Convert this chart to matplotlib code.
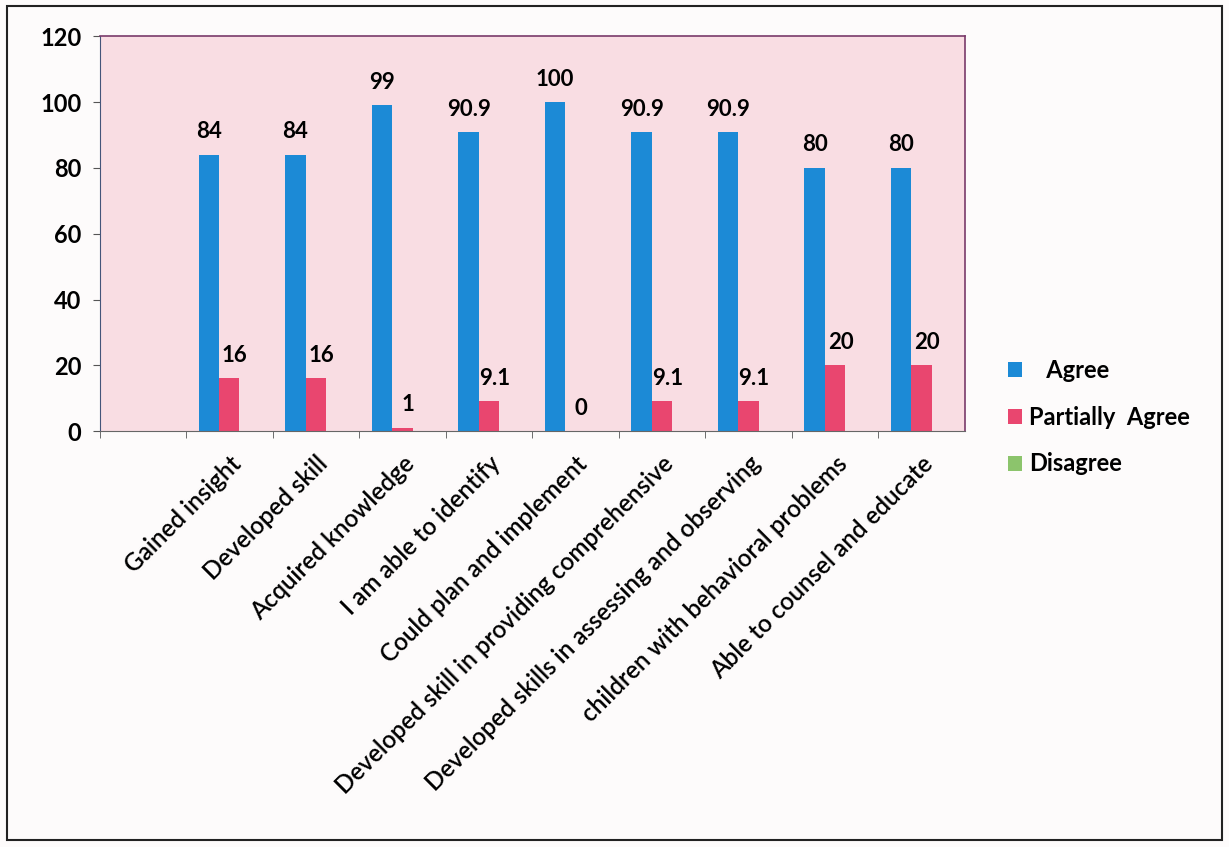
import numpy as np
import matplotlib.pyplot as plt
from matplotlib.patches import Rectangle

# Data
categories = ['', 'Gained insight', 'Developed skill', 'Acquired knowledge', 'I am able to identify',
              'Could plan and implement', 'Developed skill in providing comprehensive',
              'Developed skills in assessing and observing', 'children with behavioral problems',
              'Able to counsel and educate']
agree = [None, 84, 84, 99, 90.9, 100, 90.9, 90.9, 80, 80]
partially = [None, 16, 16, 1, 9.1, 0, 9.1, 9.1, 20, 20]
disagree = [None, 0, 0, 0, 0, 0, 0, 0, 0, 0]
yticks = [0, 20, 40, 60, 80, 100, 120]

blue = '#1c8ad6'
pink = '#e9466f'
green = '#8cc46c'

plt.rcParams['font.family'] = ['Lato', 'DejaVu Sans']

fig = plt.figure(figsize=(12.29, 8.47), dpi=100)
fig.patch.set_facecolor('#fdfbfb')
ax = fig.add_axes([0.081, 0.491, 0.704, 0.466])
ax.set_facecolor('#f9dde3')

x = np.arange(len(categories))
w = 0.235
idx = [i for i in x if agree[i] is not None]
a = [agree[i] for i in idx]
p = [partially[i] for i in idx]
d = [disagree[i] for i in idx]
xi = np.array(idx, dtype=float) + 0.5

ba = ax.bar(xi - w, a, w, color=blue, label='   Agree')
bp = ax.bar(xi, p, w, color=pink, label='Partially  Agree')
bd = ax.bar(xi + w, d, w, color=green, label='Disagree')

for rect, v in zip(ba, a):
    ax.annotate('%g' % v, (rect.get_x() + rect.get_width() / 2, v), xytext=(0, 9),
                textcoords='offset points', ha='center', va='bottom', fontsize=16, fontweight='bold')
for rect, v in zip(bp, p):
    ax.annotate('%g' % v, (rect.get_x() + rect.get_width() / 2, v), xytext=(4, 9),
                textcoords='offset points', ha='center', va='bottom', fontsize=16, fontweight='bold')

ax.set_xlim(0, len(categories))
ax.set_ylim(0, 120)
ax.set_yticks(yticks)
ax.set_yticklabels([str(t) for t in yticks], fontsize=17, fontweight='bold')
ax.set_xticks(x + 0.5)
ax.set_xticklabels(categories, rotation=45, ha='right', rotation_mode='anchor', fontsize=17.5,
                   fontweight='semibold')
ax.tick_params(axis='x', length=0, pad=15)
ax.set_xticks(x, minor=True)
ax.tick_params(axis='x', which='minor', length=5, color='#555555')
ax.tick_params(axis='y', length=5, color='#555555', pad=8)

for s in ['top', 'right']:
    ax.spines[s].set_color('#7a3a6a')
    ax.spines[s].set_linewidth(1.2)
ax.spines['left'].set_color('#44557a')
ax.spines['bottom'].set_color('#666666')

leg = ax.legend(loc='center left', bbox_to_anchor=(1.025, 0.035), frameon=False,
                prop={'size': 17, 'weight': 'bold'}, labelspacing=1.0, handlelength=0.6,
                handleheight=0.6, handletextpad=0.3)

fig.add_artist(Rectangle((0.006, 0.008), 0.988, 0.985, transform=fig.transFigure,
                         fill=False, edgecolor='#222222', linewidth=1.5))

fig.savefig('out.png', dpi=100, facecolor=fig.get_facecolor())
